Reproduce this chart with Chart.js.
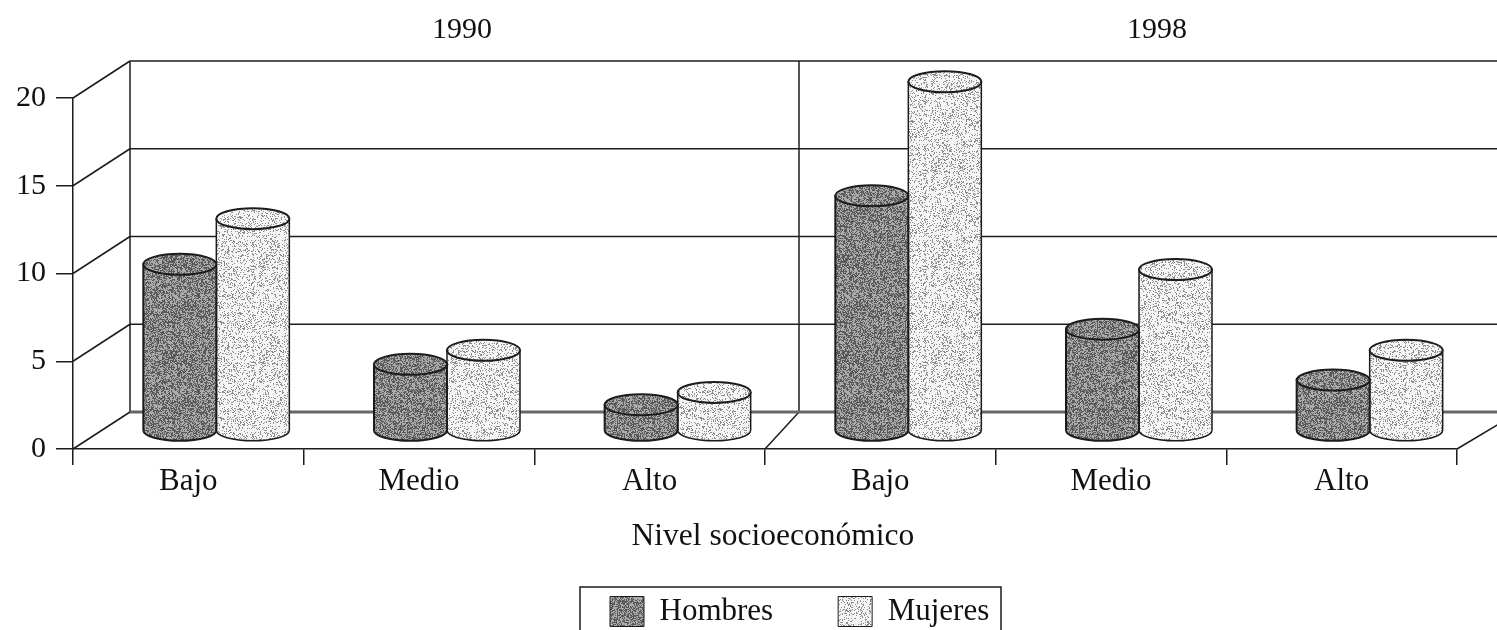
<!DOCTYPE html>
<html>
<head>
<meta charset="utf-8">
<title>Nivel socioeconómico</title>
<script src="https://cdn.jsdelivr.net/npm/chart.js@4"></script>
<style>
    html, body { margin: 0; padding: 0; background: #fff; overflow: hidden; }
    canvas { display: block; }
</style>
</head>
<body>
<canvas id="chart" width="1497" height="630"></canvas>
<script>
(function () {
    const categories = ['Bajo', 'Medio', 'Alto', 'Bajo', 'Medio', 'Alto'];
    const years = ['1990', '1998'];
    const hombres = [9.5, 3.8, 1.5, 13.4, 5.8, 2.9];
    const mujeres = [12.1, 4.6, 2.2, 19.9, 9.2, 4.6];
    const axisTitle = 'Nivel socioeconómico';

    const serif = '"Liberation Serif", "Times New Roman", serif';
    const ink = '#1c1c1c';

    // speckled fill like the scanned original, from a fixed hash so it never changes
    function speckle(darkShare, darkGray, lightGray) {
        const c = document.createElement('canvas');
        c.width = c.height = 96;
        const g = c.getContext('2d');
        const img = g.createImageData(96, 96);
        let seed = 12345;
        for (let i = 0; i < img.data.length; i += 4) {
            seed = (seed * 1103515245 + 12345) & 0x7fffffff;
            const v = ((seed >> 16) & 255) / 255 < darkShare ? darkGray : lightGray;
            img.data[i] = img.data[i + 1] = img.data[i + 2] = v;
            img.data[i + 3] = 255;
        }
        g.putImageData(img, 0, 0);
        return g.createPattern(c, 'repeat');
    }

    const darkFill = speckle(0.5, 90, 170);
    const lightFill = speckle(0.22, 140, 245);

    function cylinder(ctx, cx, top, base, rx, fill, edgeWidth) {
        const ry = 10.5;
        ctx.save();
        ctx.beginPath();
        ctx.moveTo(cx - rx, top);
        ctx.lineTo(cx - rx, base);
        ctx.ellipse(cx, base, rx, ry, 0, Math.PI, 0, true);
        ctx.lineTo(cx + rx, top);
        ctx.closePath();
        ctx.fillStyle = fill;
        ctx.fill();
        ctx.lineWidth = edgeWidth;
        ctx.strokeStyle = ink;
        ctx.stroke();
        ctx.beginPath();
        ctx.ellipse(cx, top, rx, ry, 0, 0, Math.PI * 2);
        ctx.fillStyle = fill;
        ctx.fill();
        ctx.lineWidth = 2;
        ctx.stroke();
        ctx.restore();
    }

    function line(ctx, x1, y1, x2, y2) {
        ctx.beginPath();
        ctx.moveTo(x1, y1);
        ctx.lineTo(x2, y2);
        ctx.stroke();
    }

    const legendFrame = { left: 580, right: 1001, top: 587 };
    const legendGap = 65;

    const depthPlugin = {
        id: 'depth',
        beforeLayout(chart) {
            // the wide item gap must not eat into the plot height
            const lg = chart.legend;
            const fit = lg.fit;
            lg.fit = function () { fit.call(this); this.height = 50; };
        },
        afterLayout(chart) {
            // legend box sits right of centre and runs off the bottom of the page
            const lg = chart.legend;
            lg.left = 610 - legendGap;
            lg.right = chart.width;
            lg.top = 596 - legendGap;
        },
        beforeDatasetsDraw(chart) {
            const ctx = chart.ctx;
            const x = chart.scales.x, y = chart.scales.y;
            const backDx = 57, backDy = -37;
            const left = chart.chartArea.left, right = chart.chartArea.right;
            const mid = x.getPixelForTick(3) - (x.getPixelForTick(4) - x.getPixelForTick(3)) / 2;
            const floor = y.getPixelForValue(0);

            ctx.save();
            ctx.strokeStyle = ink;
            ctx.lineWidth = 1.5;
            y.ticks.forEach(function (t) {
                const py = y.getPixelForValue(t.value);
                line(ctx, left, py, left + backDx, py + backDy);
                if (t.value !== 0) line(ctx, left + backDx, py + backDy, chart.width, py + backDy);
            });
            line(ctx, left + backDx, y.getPixelForValue(20) + backDy, left + backDx, floor + backDy);
            line(ctx, mid + 34, y.getPixelForValue(20) + backDy, mid + 34, floor + backDy);
            line(ctx, mid, floor, mid + 34, floor + backDy);
            line(ctx, right, floor, right + 62, floor + backDy);
            ctx.strokeStyle = '#666';
            ctx.lineWidth = 3;
            line(ctx, left + backDx, floor + backDy, chart.width, floor + backDy);
            ctx.restore();
        },
        beforeDatasetDraw(chart, args) {
            // bars stand on the middle of the floor, so they are moved back by half the depth
            const ctx = chart.ctx;
            const fill = args.index === 0 ? darkFill : lightFill;
            const edge = args.index === 0 ? 2 : 1.5;
            chart.getDatasetMeta(args.index).data.forEach(function (bar) {
                cylinder(ctx, bar.x + 28, bar.y - 18, bar.base - 18, bar.width / 2, fill, edge);
            });
            return false;
        },
        afterDraw(chart) {
            const ctx = chart.ctx;
            const x = chart.scales.x;
            ctx.save();
            ctx.fillStyle = '#111';
            ctx.font = '30px ' + serif;
            ctx.textAlign = 'center';
            ctx.textBaseline = 'middle';
            ctx.fillText(years[0], x.getPixelForTick(1) + 43, 30);
            ctx.fillText(years[1], x.getPixelForTick(4) + 46, 30);
            ctx.strokeStyle = ink;
            ctx.lineWidth = 1.5;
            ctx.beginPath();
            ctx.moveTo(legendFrame.left, 630);
            ctx.lineTo(legendFrame.left, legendFrame.top);
            ctx.lineTo(legendFrame.right, legendFrame.top);
            ctx.lineTo(legendFrame.right, 630);
            ctx.stroke();
            ctx.restore();
        }
    };

    new Chart(document.getElementById('chart'), {
        type: 'bar',
        data: {
            labels: categories,
            datasets: [
                { label: 'Hombres', data: hombres, backgroundColor: darkFill, borderColor: ink, borderWidth: 1 },
                { label: 'Mujeres', data: mujeres, backgroundColor: lightFill, borderColor: ink, borderWidth: 1 }
            ]
        },
        options: {
            responsive: false,
            animation: false,
            categoryPercentage: 0.633,
            barPercentage: 1,
            layout: { padding: { top: 98, right: 40, left: 0, bottom: 0 } },
            plugins: {
                tooltip: { enabled: false },
                legend: {
                    position: 'bottom',
                    align: 'start',
                    labels: {
                        color: '#111',
                        font: { family: serif, size: 31 },
                        boxWidth: 34,
                        boxHeight: 30,
                        padding: legendGap
                    }
                }
            },
            scales: {
                x: {
                    afterFit: function (s) { s.height = 131; },
                    border: { color: ink, width: 1.5 },
                    grid: { drawOnChartArea: false, color: ink, tickLength: 16, lineWidth: 1.5 },
                    ticks: { color: '#111', font: { family: serif, size: 31 }, padding: -2, maxRotation: 0 },
                    title: {
                        display: true,
                        text: '  ' + axisTitle, // two spaces push the centred title right, as in the original
                        color: '#111',
                        font: { family: serif, size: 31.5 },
                        padding: { top: 0, bottom: 24 }
                    }
                },
                y: {
                    min: 0,
                    max: 20,
                    afterFit: function (s) { s.width = 73; },
                    border: { color: ink, width: 1.5 },
                    grid: { drawOnChartArea: false, color: ink, tickLength: 17, lineWidth: 1.5 },
                    ticks: { stepSize: 5, color: '#111', font: { family: serif, size: 30 }, padding: 10 }
                }
            }
        },
        plugins: [depthPlugin]
    });
})();
</script>
</body>
</html>
